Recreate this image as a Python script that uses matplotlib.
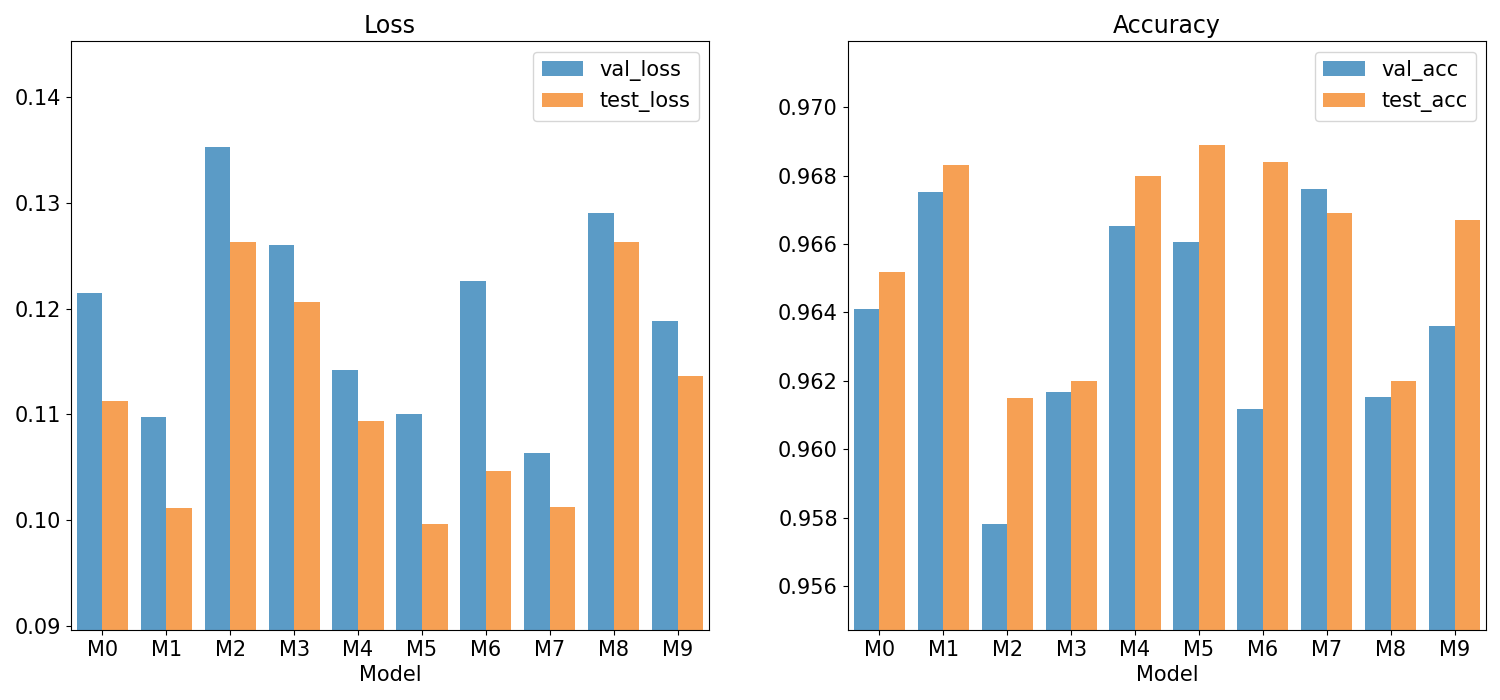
import matplotlib
matplotlib.use("Agg")
import matplotlib.pyplot as plt
import numpy as np

models = ["M0", "M1", "M2", "M3", "M4", "M5", "M6", "M7", "M8", "M9"]

val_loss = [0.1215, 0.1098, 0.1353, 0.1260, 0.1142, 0.1100, 0.1226, 0.1063, 0.1291, 0.1188]
test_loss = [0.1113, 0.1011, 0.1263, 0.1206, 0.1094, 0.0996, 0.1046, 0.1012, 0.1263, 0.1136]

val_acc = [0.96410, 0.96752, 0.95780, 0.96166, 0.96653, 0.96606, 0.96118, 0.96761, 0.96154, 0.96359]
test_acc = [0.96519, 0.96830, 0.96150, 0.96199, 0.96799, 0.96889, 0.96840, 0.96690, 0.96199, 0.96671]

BLUE = "#5b9bc6"
ORANGE = "#f6a054"

plt.rcParams["font.size"] = 15

fig, axes = plt.subplots(1, 2, figsize=(15, 7), dpi=100)
fig.subplots_adjust(left=0.047, right=0.991, bottom=0.1, top=0.941, wspace=0.216)

x = np.arange(len(models))
w = 0.4


def draw(ax, a, b, labels, title, ylim, yticks, fmt):
    ax.bar(x - w / 2, a, width=w, color=BLUE, label=labels[0])
    ax.bar(x + w / 2, b, width=w, color=ORANGE, label=labels[1])
    ax.set_xticks(x)
    ax.set_xticklabels(models)
    ax.set_xlim(-0.5, len(models) - 0.5)
    ax.set_ylim(*ylim)
    ax.set_yticks(yticks)
    ax.set_yticklabels([fmt.format(t) for t in yticks])
    ax.set_xlabel("Model", labelpad=4)
    ax.set_title(title, fontsize=17)
    ax.legend(loc="upper right")


draw(axes[0], val_loss, test_loss, ["val_loss", "test_loss"], "Loss",
     (0.0896, 0.1453), [0.09, 0.10, 0.11, 0.12, 0.13, 0.14], "{:.2f}")
draw(axes[1], val_acc, test_acc, ["val_acc", "test_acc"], "Accuracy",
     (0.95471, 0.97193), [0.956, 0.958, 0.960, 0.962, 0.964, 0.966, 0.968, 0.970], "{:.3f}")

plt.savefig("out.png")
